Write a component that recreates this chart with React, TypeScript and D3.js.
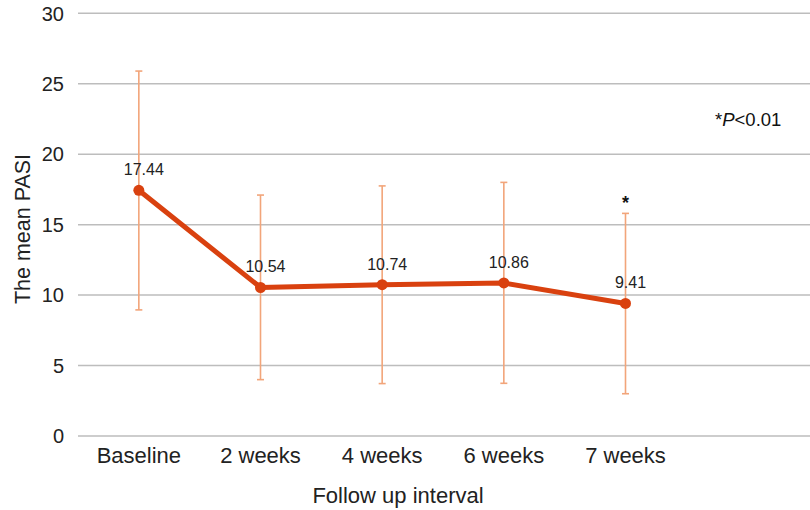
import React from "react";
import * as d3 from "d3";

const categories = ["Baseline", "2 weeks", "4 weeks", "6 weeks", "7 weeks", ""];
const means = [17.44, 10.54, 10.74, 10.86, 9.41];
const upper = [25.9, 17.1, 17.75, 18.0, 15.8];
const lower = [8.95, 4.0, 3.72, 3.74, 3.0];
const yTicks = [0, 5, 10, 15, 20, 25, 30];
const significant = [false, false, false, false, true];

const W = 810;
const H = 510;
const FONT = "'Liberation Sans', Arial, Helvetica, sans-serif";

export default function App() {
  const x = d3.scaleBand<string>().domain(categories).range([78, 808]).padding(0);
  const y = d3.scaleLinear().domain([0, 30]).range([436, 13.3]);
  const cx = (i: number) => (x(categories[i]) as number) + x.bandwidth() / 2;
  const line = d3
    .line<number>()
    .x((_, i) => cx(i))
    .y((d) => y(d));
  const lineColor = "#d9410f";
  const errColor = "#f2a57a";
  return (
    <svg width={W} height={H} style={{ position: "absolute", left: 0, top: 0, background: "#fff" }} fontFamily={FONT}>
      {yTicks.map((t) => (
        <g key={t}>
          <line x1={78} x2={810} y1={y(t)} y2={y(t)} stroke="#bdbdbd" strokeWidth={1.5} />
          <text x={64} y={y(t)} dy="0.36em" textAnchor="end" fontSize={20} fill="#222">
            {t}
          </text>
        </g>
      ))}
      {means.map((m, i) => (
        <g key={"e" + i} stroke={errColor} strokeWidth={1.6}>
          <line x1={cx(i)} x2={cx(i)} y1={y(upper[i])} y2={y(lower[i])} />
          <line x1={cx(i) - 3.5} x2={cx(i) + 3.5} y1={y(upper[i])} y2={y(upper[i])} />
          <line x1={cx(i) - 3.5} x2={cx(i) + 3.5} y1={y(lower[i])} y2={y(lower[i])} />
        </g>
      ))}
      <path d={line(means) || ""} fill="none" stroke={lineColor} strokeWidth={5} strokeLinejoin="round" />
      {means.map((m, i) => (
        <circle key={"c" + i} cx={cx(i)} cy={y(m)} r={5.5} fill={lineColor} />
      ))}
      {means.map((m, i) => (
        <text key={"l" + i} x={cx(i) + 5} y={y(m) - 15} textAnchor="middle" fontSize={16} fill="#222">
          {m.toFixed(2)}
        </text>
      ))}
      {means.map((m, i) =>
        significant[i] ? (
          <text key={"s" + i} x={cx(i)} y={y(upper[i]) - 4} textAnchor="middle" fontSize={18} fontWeight="bold" fill="#111">
            *
          </text>
        ) : null
      )}
      {categories.map((c, i) =>
        c ? (
          <text key={"x" + i} x={cx(i)} y={463} textAnchor="middle" fontSize={22} fill="#222">
            {c}
          </text>
        ) : null
      )}
      <text x={398} y={503} textAnchor="middle" fontSize={22} fill="#222">
        Follow up interval
      </text>
      <text transform={`translate(30,${229}) rotate(-90)`} textAnchor="middle" fontSize={21.5} fill="#222">
        The mean PASI
      </text>
      <text x={715} y={126} fontSize={18.5} fill="#111">
        *<tspan fontStyle="italic">P</tspan>&lt;0.01
      </text>
    </svg>
  );
}
